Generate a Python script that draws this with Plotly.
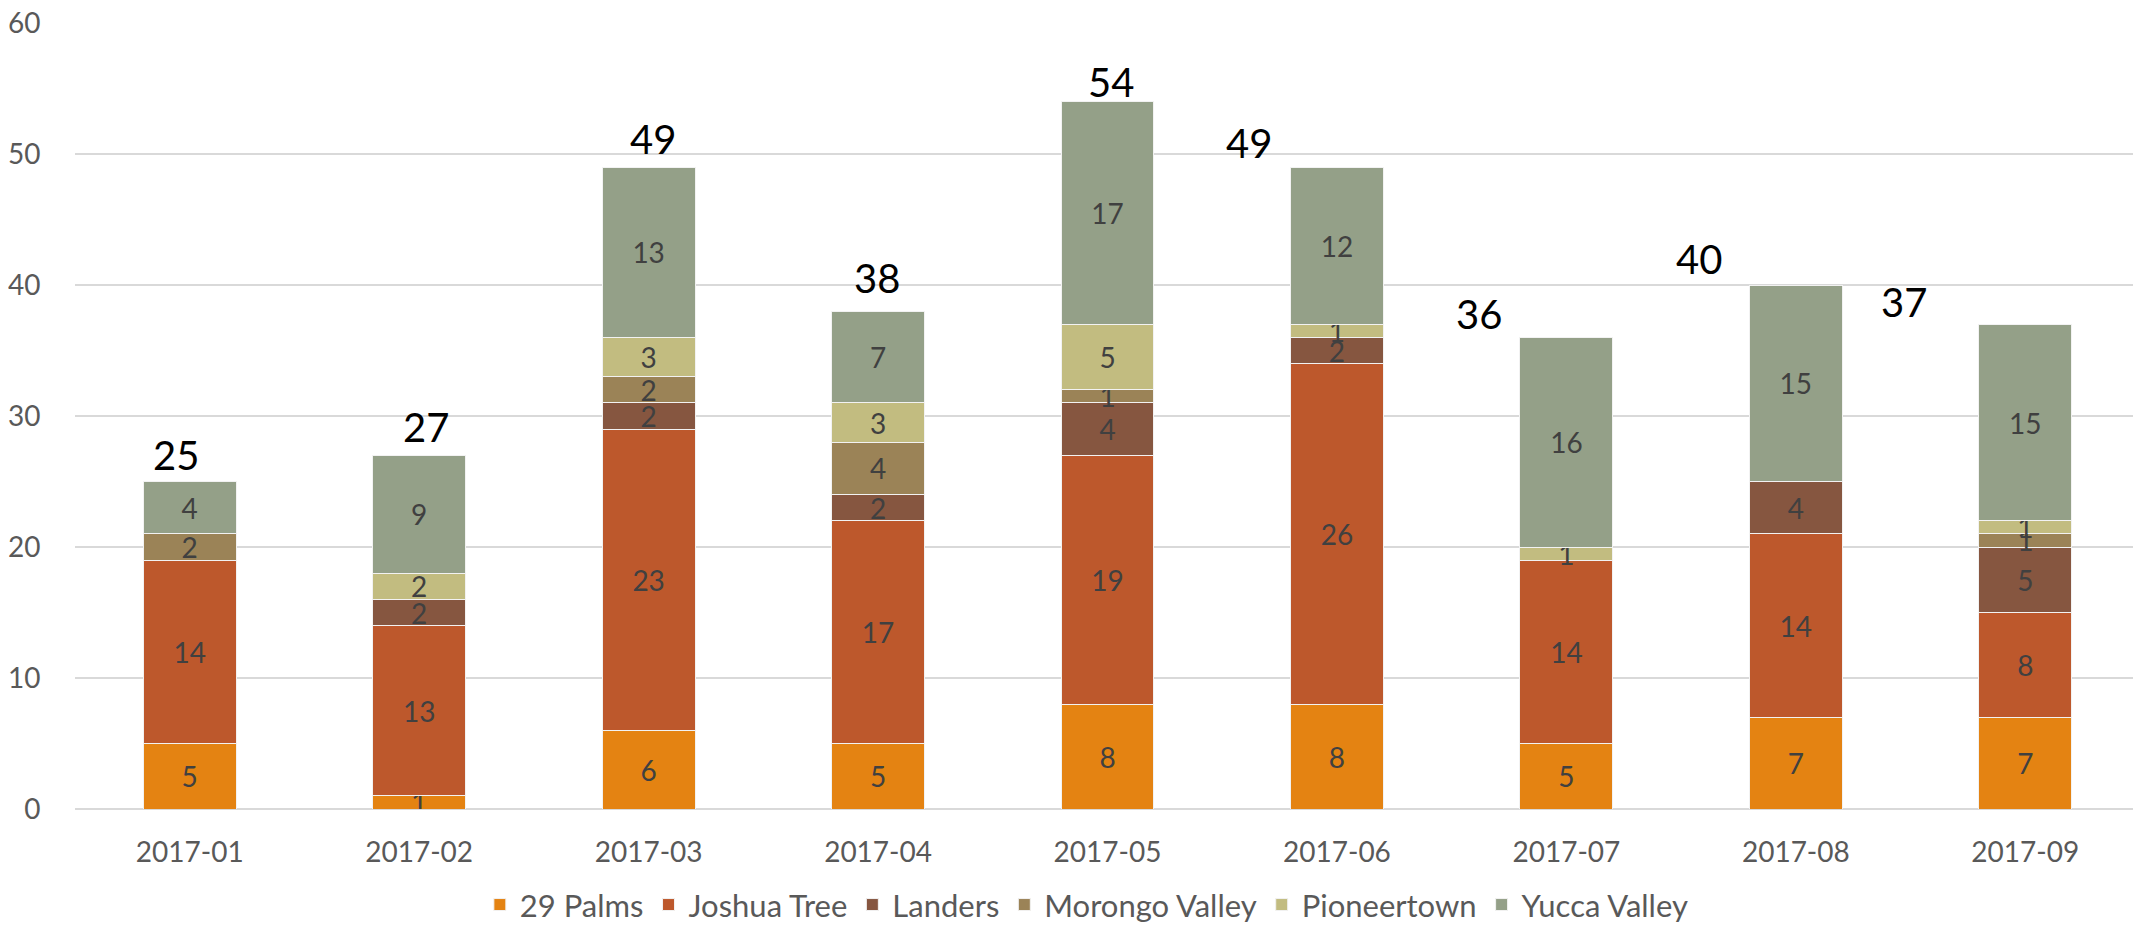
import plotly.graph_objects as go

months = ["2017-01", "2017-02", "2017-03", "2017-04", "2017-05",
          "2017-06", "2017-07", "2017-08", "2017-09"]

palms29 = [5, 1, 6, 5, 8, 8, 5, 7, 7]
joshua_tree = [14, 13, 23, 17, 19, 26, 14, 14, 8]
landers = [0, 2, 2, 2, 4, 2, 0, 4, 5]
morongo_valley = [2, 0, 2, 4, 1, 0, 0, 0, 1]
pioneertown = [0, 2, 3, 3, 5, 1, 1, 0, 1]
yucca_valley = [4, 9, 13, 7, 17, 12, 16, 15, 15]

series_names = ["29 Palms", "Joshua Tree", "Landers", "Morongo Valley",
                "Pioneertown", "Yucca Valley"]
series_values = [palms29, joshua_tree, landers, morongo_valley,
                 pioneertown, yucca_valley]
series_colors = ["#E48312", "#BD582C", "#865640", "#9B8357",
                 "#C2BC80", "#94A088"]

# horizontal / vertical offsets (px) of the total labels, as placed in the reference
total_xshift = [-14, 7, 4, -1, 3, -88, -87, -97, -121]
total_yshift = [27, 28, 28, 33, 20, 24, 23, 26, 22]

FONT = "Lato"

fig = go.Figure()
for name, vals, col in zip(series_names, series_values, series_colors):
    fig.add_trace(go.Bar(
        name=name,
        x=months,
        y=[v if v else None for v in vals],
        text=[str(v) if v else "" for v in vals],
        textposition="inside",
        insidetextanchor="middle",
        textangle=0,
        constraintext="none",
        textfont=dict(family=FONT, size=28, color="#404040"),
        marker=dict(color=col, line=dict(color="#f2f2f2", width=1)),
        hoverinfo="skip",
    ))

totals = [sum(s[i] for s in series_values) for i in range(len(months))]
for m, t, dx, dy in zip(months, totals, total_xshift, total_yshift):
    fig.add_annotation(x=m, y=t, text=str(t), showarrow=False,
                       xanchor="center", yanchor="middle",
                       xshift=dx, yshift=dy,
                       font=dict(family=FONT, size=40, color="#000000"))

fig.update_layout(
    width=2133, height=918,
    barmode="stack",
    bargap=0.595,
    plot_bgcolor="white",
    paper_bgcolor="white",
    margin=dict(l=67, r=1, t=15, b=117, autoexpand=False),
    font=dict(family=FONT, color="#595959", size=28),
    showlegend=True,
    legend=dict(orientation="h", x=0.49, xanchor="center",
                y=-0.122, yanchor="middle",
                font=dict(family=FONT, size=31, color="#595959"),
                traceorder="normal"),
)
fig.update_xaxes(type="category", automargin=False,
                 showgrid=False, showline=False, zeroline=False,
                 ticks="outside", ticklen=18, tickcolor="rgba(0,0,0,0)",
                 tickfont=dict(family=FONT, size=28, color="#595959"))
fig.update_yaxes(range=[0, 60], dtick=10, automargin=False, showgrid=True,
                 ticklabeloverflow="allow",
                 gridcolor="#d9d9d9", gridwidth=2,
                 zeroline=True, zerolinecolor="#d9d9d9", zerolinewidth=2,
                 showline=False,
                 ticks="outside", ticklen=28, tickcolor="rgba(0,0,0,0)",
                 tickfont=dict(family=FONT, size=28, color="#595959"))

fig.write_html("out.html")
